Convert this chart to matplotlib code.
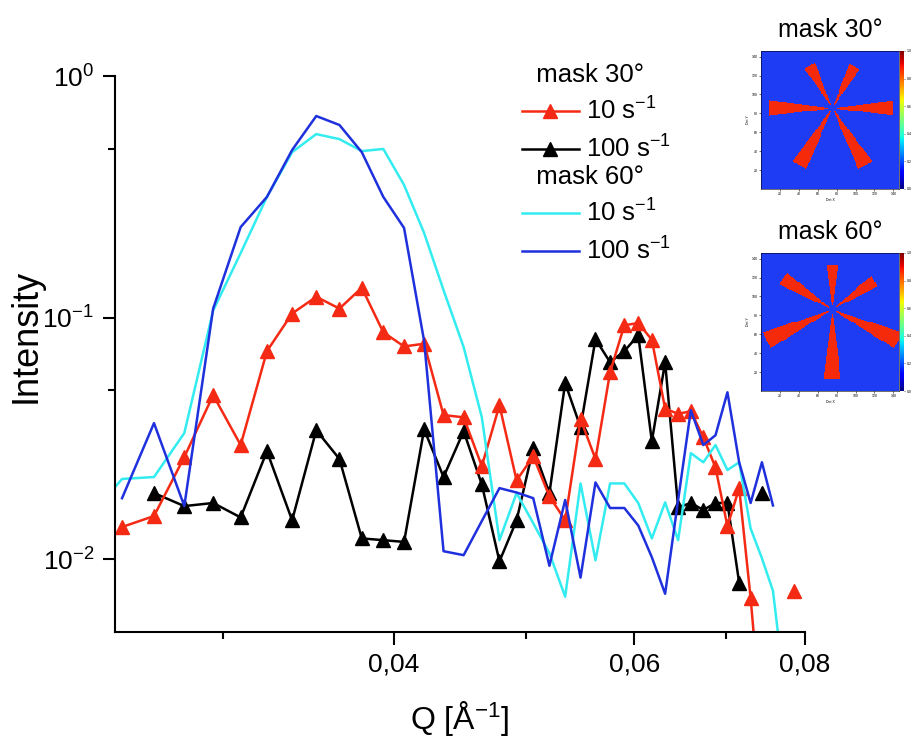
import numpy as np
import matplotlib
matplotlib.use('Agg')
import matplotlib.pyplot as plt
import matplotlib.cm as cm
from matplotlib.colors import ListedColormap, Normalize
from matplotlib.ticker import FixedLocator, FixedFormatter, NullFormatter

plt.rcParams['font.family'] = ['Liberation Sans', 'DejaVu Sans']
plt.rcParams['mathtext.fontset'] = 'custom'
plt.rcParams['mathtext.rm'] = 'Liberation Sans'
plt.rcParams['mathtext.it'] = 'Liberation Sans:italic'

nan = np.nan

# Q grid [1/A]
q = [0.0239, 0.0253, 0.0267, 0.0281, 0.0295, 0.0309, 0.0323, 0.0337, 0.0351, 0.0365,
     0.0379, 0.0393, 0.0407, 0.0421, 0.0435, 0.0450, 0.0464, 0.0478, 0.0492, 0.0506,
     0.0520, 0.0534, 0.0548, 0.0562, 0.0576, 0.0590, 0.0604, 0.0618, 0.0632, 0.0646,
     0.0660, 0.0674, 0.0688, 0.0702, 0.0716, 0.0730, 0.0744, 0.0758, 0.0772, 0.0786]

# mask 30 deg
m30_10 = [nan, 0.0136, 0.0151, 0.0265, 0.0478, 0.0297, 0.0727, 0.104, 0.122, 0.109,
          0.133, 0.087, 0.076, 0.078, 0.0395, 0.0387, 0.0243, 0.0434, 0.0212, 0.0267,
          0.0182, 0.0145, 0.038, 0.026, 0.0595, 0.093, 0.095, 0.081, 0.042, 0.040,
          0.041, 0.032, 0.024, 0.0137, 0.0197, 0.0069, 0.002, nan, nan, 0.0074]
m30_100 = [nan, nan, 0.0188, 0.0166, 0.0171, 0.0149, 0.0280, 0.0145, 0.0342, 0.0260,
           0.0122, 0.0120, 0.0118, 0.0345, 0.0219, 0.0339, 0.0204, 0.0098, 0.0145, 0.0288,
           0.0188, 0.0536, 0.0352, 0.0815, 0.0654, 0.0727, 0.0846, 0.0308, 0.0654, 0.0164,
           0.0171, 0.0160, 0.0171, 0.0171, 0.0080, nan, 0.0188, nan, nan, nan]
# mask 60 deg
m60_10 = [0.0148, 0.0215, 0.0219, 0.0333, 0.107, 0.185, 0.316, 0.484, 0.575, 0.548,
          0.489, 0.499, 0.354, 0.224, 0.130, 0.0755, 0.0387, 0.0120, 0.0188, 0.0141,
          0.0106, 0.0070, 0.0206, 0.0099, 0.0206, 0.0206, 0.0171, 0.0122, 0.0172, 0.0120,
          0.0275, 0.0252, 0.0297, 0.0234, 0.0252, 0.0134, 0.0101, 0.0074, 0.0031, nan]
m60_100 = [nan, 0.0179, 0.0366, 0.0166, 0.109, 0.237, 0.316, 0.494, 0.683, 0.627,
           0.484, 0.316, 0.235, 0.080, 0.0108, 0.0104, 0.0144, 0.0197, 0.0189, 0.0179,
           0.0094, 0.0176, 0.0084, 0.0208, 0.0163, 0.0163, 0.0138, 0.0102, 0.0072, 0.0176,
           0.0414, 0.0297, 0.0326, 0.0491, 0.0252, 0.0171, 0.0252, 0.0167, nan, nan]

xticks = [0.04, 0.06, 0.08]
xtick_labels = ['0,04', '0,06', '0,08']
xminor = [0.03, 0.05, 0.07]
yticks = [0.01, 0.1, 1.0]
ytick_labels = [r'$\mathregular{10^{-2}}$', r'$\mathregular{10^{-1}}$', r'$\mathregular{10^{0}}$']
yminor = [0.05, 0.5]

# detector masks (arm angle in deg, arm length in pixels)
mask30_angles = [0, 62, 118, 180, 240, 300]
mask30_len = [65, 50, 51, 68, 70, 70]
mask60_angles = [34, 90, 148, 205, 270, 335]
mask60_len = [54, 47, 62, 77, 73, 77]


def mask_image(angles, lengths, half=7, r_in=4, cx=75, cy=85, n=146):
    yy, xx = np.mgrid[0:n, 0:n]
    r = np.hypot(xx - cx, yy - cy)
    th = np.degrees(np.arctan2(yy - cy, xx - cx)) % 360
    img = np.zeros((n, n))
    for a, L in zip(angles, lengths):
        d = np.abs((th - a + 180) % 360 - 180)
        img[(d < half) & (r > r_in) & (r < L)] = 1
    return img


fig = plt.figure(figsize=(9.11, 7.38), dpi=100)
ax = fig.add_axes([0.1262, 0.1436, 0.7574, 0.7534])
ax.set_xscale('log')
ax.set_yscale('log')

l1, = ax.plot(q, m30_100, '-^', color='black', lw=1.8, ms=10, label=r'100 s$^{\mathregular{-1}}$')
l0, = ax.plot(q, m30_10, '-^', color='#f52a14', lw=1.8, ms=10, label=r'10 s$^{\mathregular{-1}}$')
l2, = ax.plot(q, m60_10, '-', color='#33ecf0', lw=1.8, label=r'10 s$^{\mathregular{-1}}$')
l3, = ax.plot(q, m60_100, '-', color='#1f30dd', lw=1.8, label=r'100 s$^{\mathregular{-1}}$')

ax.set_xlim(0.025, 0.08)
ax.set_ylim(0.005, 1.0)
ax.xaxis.set_major_locator(FixedLocator(xticks))
ax.xaxis.set_major_formatter(FixedFormatter(xtick_labels))
ax.xaxis.set_minor_locator(FixedLocator(xminor))
ax.xaxis.set_minor_formatter(NullFormatter())
ax.yaxis.set_major_locator(FixedLocator(yticks))
ax.yaxis.set_major_formatter(FixedFormatter(ytick_labels))
ax.yaxis.set_minor_locator(FixedLocator(yminor))
ax.yaxis.set_minor_formatter(NullFormatter())

for s in ['top', 'right']:
    ax.spines[s].set_visible(False)
for s in ['left', 'bottom']:
    ax.spines[s].set_linewidth(1.5)
ax.tick_params(which='major', length=9, width=1.5, labelsize=19, pad=6)
ax.tick_params(which='minor', length=5, width=1.5)

ax.set_ylabel('Intensity', fontsize=26)
ax.yaxis.set_label_coords(-0.104, 0.532)
ax.set_xlabel(r'Q [Å$^{\mathregular{-1}}$]', fontsize=23, labelpad=16)

leg_kw = dict(loc='upper left', frameon=False, fontsize=18.5, title_fontsize=18.5,
              handlelength=2.2, handletextpad=0.3, labelspacing=0.42, borderpad=0,
              borderaxespad=0, numpoints=1, alignment='left',
              bbox_transform=fig.transFigure)
leg1 = ax.legend([l0, l1], [l0.get_label(), l1.get_label()], title='  mask 30°',
                 bbox_to_anchor=(522 / 911, 1 - 63 / 738), **leg_kw)
ax.add_artist(leg1)
leg2 = ax.legend([l2, l3], [l2.get_label(), l3.get_label()], title='  mask 60°',
                 bbox_to_anchor=(522 / 911, 1 - 165 / 738), **leg_kw)

# detector mask insets
two = ListedColormap(['#1f3cf5', '#f52a0a'])
for img_angles, img_len, title, top in [(mask30_angles, mask30_len, 'mask 30°', 51),
                                        (mask60_angles, mask60_len, 'mask 60°', 253)]:
    axi = fig.add_axes([761 / 911, 1 - (top + 138) / 738, 138 / 911, 138 / 738])
    axi.imshow(mask_image(img_angles, img_len), origin='lower', extent=[0, 146, 0, 146],
               cmap=two, interpolation='nearest', aspect='auto')
    axi.set_xticks([20, 40, 60, 80, 100, 120, 140])
    axi.set_yticks([20, 40, 60, 80, 100, 120, 140])
    axi.tick_params(labelsize=2.5, length=1.5, width=0.4, pad=1)
    axi.set_xlabel('Det X', fontsize=2.5, labelpad=1)
    axi.set_ylabel('Det Y', fontsize=2.5, labelpad=1)
    for s in axi.spines.values():
        s.set_linewidth(0.4)
    axi.set_title(title, fontsize=18, pad=10)
    cax = fig.add_axes([900 / 911, 1 - (top + 138) / 738, 4 / 911, 138 / 738])
    cb = fig.colorbar(cm.ScalarMappable(norm=Normalize(0, 1), cmap='jet'), cax=cax)
    cb.outline.set_linewidth(0)
    cax.tick_params(labelsize=2.5, length=1, width=0.4, pad=1)

fig.savefig('out.png', dpi=100)
